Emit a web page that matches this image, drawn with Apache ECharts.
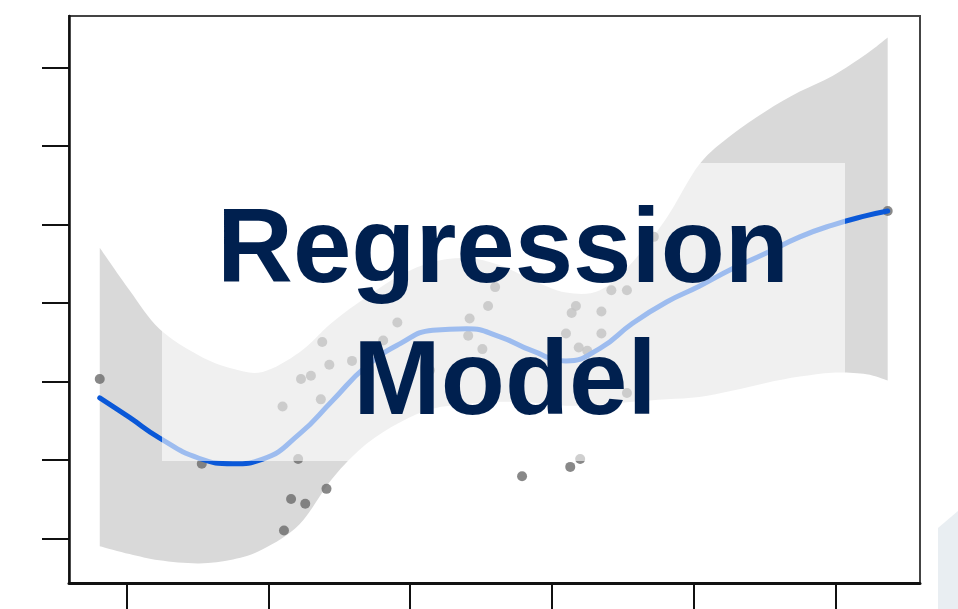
<!DOCTYPE html>
<html>
<head>
<meta charset="utf-8">
<title>Regression Model</title>
<script src="https://cdn.jsdelivr.net/npm/echarts@6/dist/echarts.min.js"></script>
<style>
  html, body { margin: 0; padding: 0; background: #ffffff; }
  #chart { width: 958px; height: 609px; }
</style>
</head>
<body>
<div id="chart"></div>
<script>
// Sample positions along the predictor
const xs = [0.81, 1.02, 1.23, 1.51, 1.75, 1.96, 2.22, 2.45, 2.69, 2.93, 3.16, 3.40, 3.63,
            3.86, 4.10, 4.34, 4.57, 4.81, 5.04, 5.27, 5.51, 5.75, 5.98, 6.22, 6.37];
// Smoothed fit
const fitY = [2.79, 2.54, 2.28, 2.02, 1.95, 2.01, 2.33, 2.75, 3.19, 3.48, 3.65, 3.67, 3.57,
              3.39, 3.26, 3.42, 3.74, 4.01, 4.21, 4.43, 4.63, 4.84, 4.99, 5.11, 5.17];
// Confidence band limits
const bandLow = [0.90, 0.80, 0.72, 0.68, 0.73, 0.86, 1.18, 1.76, 2.20, 2.48, 2.65, 2.71, 2.74,
                 2.73, 2.69, 2.70, 2.74, 2.77, 2.80, 2.88, 2.98, 3.06, 3.11, 3.09, 3.01];
const bandHigh = [4.70, 4.16, 3.67, 3.33, 3.16, 3.12, 3.37, 3.75, 4.07, 4.35, 4.52, 4.57, 4.48,
                  4.29, 4.13, 4.16, 4.52, 5.08, 5.76, 6.14, 6.44, 6.69, 6.89, 7.17, 7.38];
// Observations
const obsX = [0.81, 1.53, 2.21, 2.16, 2.26, 2.41, 2.11, 2.10, 2.23, 2.30, 2.37, 2.43, 2.38,
              2.59, 2.81, 2.91, 3.14, 3.41, 3.42, 3.55, 3.51, 4.10, 4.14, 4.17, 4.35, 4.35,
              4.19, 4.25, 4.53, 4.42, 4.53, 4.72, 3.79, 4.13, 4.20, 6.37, 3.60];
const obsY = [3.03, 1.95, 2.01, 1.50, 1.44, 1.63, 1.10, 2.68, 3.03, 3.07, 2.77, 3.21, 3.50,
              3.26, 3.52, 3.75, 3.14, 3.58, 3.80, 3.96, 3.41, 3.61, 3.87, 3.96, 3.89, 3.61,
              3.43, 3.39, 2.85, 4.16, 4.16, 4.84, 1.79, 1.91, 2.01, 5.17, 4.20];
// Tick positions
const xTicks = [1, 2, 3, 4, 5, 6];
const yTicks = [1, 2, 3, 4, 5, 6, 7];

const titleLines = ['Regression', 'Model'];

const zip = (a, b) => a.map((v, i) => [v, b[i]]);

// Cubic segments through pixel points (Catmull-Rom), appended to an SVG path string
function splineThrough(pts) {
  let d = '';
  for (let i = 0; i < pts.length - 1; i++) {
    const p0 = pts[Math.max(i - 1, 0)], p1 = pts[i], p2 = pts[i + 1], p3 = pts[Math.min(i + 2, pts.length - 1)];
    const c1 = [p1[0] + (p2[0] - p0[0]) / 6, p1[1] + (p2[1] - p0[1]) / 6];
    const c2 = [p2[0] - (p3[0] - p1[0]) / 6, p2[1] - (p3[1] - p1[1]) / 6];
    d += ' C' + c1[0] + ' ' + c1[1] + ' ' + c2[0] + ' ' + c2[1] + ' ' + p2[0] + ' ' + p2[1];
  }
  return d;
}

// Confidence band as one closed shape between the two limits
function renderBand(params, api) {
  if (params.dataIndex !== 0) return null;
  const up = xs.map((x, i) => api.coord([x, bandHigh[i]]));
  const lo = xs.map((x, i) => api.coord([x, bandLow[i]])).reverse();
  const d = 'M' + up[0][0] + ' ' + up[0][1] + splineThrough(up) +
            ' L' + lo[0][0] + ' ' + lo[0][1] + splineThrough(lo) + ' Z';
  return { type: 'path', shape: { pathData: d }, style: { fill: '#d9d9d9' } };
}

const chart = echarts.init(document.getElementById('chart'), null, { renderer: 'canvas' });

const tickStyle = { color: '#111', width: 2 };

chart.setOption({
  animation: false,
  backgroundColor: '#ffffff',
  grid: {
    left: 69, right: 38, top: 16, bottom: 26,
    show: true, borderColor: '#444', borderWidth: 2, backgroundColor: 'transparent'
  },
  xAxis: {
    type: 'value', min: 0.593, max: 6.598, z: 10,
    axisLine: { show: true, lineStyle: { color: '#111', width: 3 } },
    axisTick: { show: true, customValues: xTicks, length: 28, lineStyle: tickStyle },
    axisLabel: { show: false },
    splitLine: { show: false }
  },
  yAxis: {
    type: 'value', min: 0.431, max: 7.653, z: 10,
    axisLine: { show: true, lineStyle: { color: '#111', width: 2.5 } },
    axisTick: { show: true, customValues: yTicks, length: 27, lineStyle: tickStyle },
    axisLabel: { show: false },
    splitLine: { show: false }
  },
  series: [
    {
      name: 'band', type: 'custom', renderItem: renderBand,
      data: [[xs[0], bandLow[0]]], z: 1, silent: true
    },
    {
      name: 'observed', type: 'scatter', data: zip(obsX, obsY),
      symbol: 'circle', symbolSize: 10,
      itemStyle: { color: '#6a6a6a' }, z: 2
    },
    {
      name: 'fit', type: 'line', smooth: true, data: zip(xs, fitY), symbol: 'none',
      lineStyle: { color: '#0a58d8', width: 5, cap: 'round' }, z: 3
    }
  ],
  graphic: [
    {
      type: 'rect', z: 100,
      shape: { x: 162, y: 163, width: 683, height: 298 },
      style: { fill: 'rgba(255,255,255,0.6)' }
    },
    {
      type: 'text', z: 101, x: 503, y: 253,
      style: {
        text: titleLines[0], fill: '#00204f',
        font: 'bold 105px "Liberation Sans", Arial, sans-serif',
        align: 'center', verticalAlign: 'middle'
      }
    },
    {
      type: 'text', z: 101, x: 505, y: 385,
      style: {
        text: titleLines[1], fill: '#00204f',
        font: 'bold 105px "Liberation Sans", Arial, sans-serif',
        align: 'center', verticalAlign: 'middle'
      }
    },
    {
      type: 'polygon', z: 100,
      shape: { points: [[938, 528], [958, 511], [958, 609], [938, 609]] },
      style: { fill: '#e9eef2' }
    }
  ]
});
</script>
</body>
</html>
